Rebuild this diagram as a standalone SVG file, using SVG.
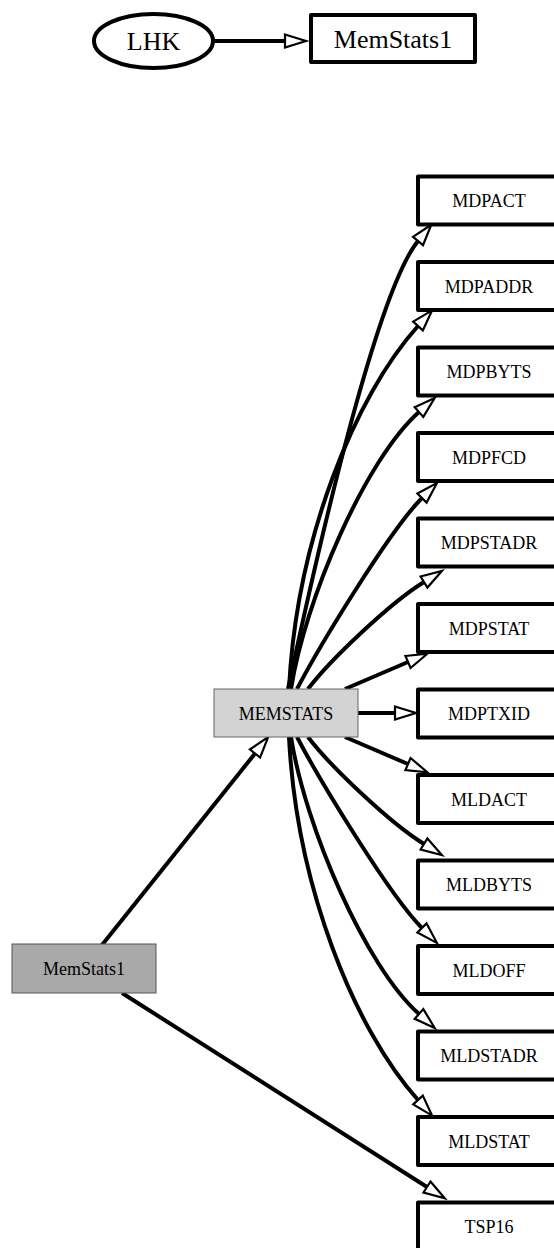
<svg xmlns="http://www.w3.org/2000/svg" width="554" height="1248" viewBox="0 0 554 1248">
  <style>
    .lbl { font-family: "Liberation Serif", "Times New Roman", serif; font-size: 18px; fill: #000; text-anchor: middle; }
    .big { font-size: 26px; }
    .box { fill: #fff; stroke: #000; stroke-width: 4; stroke-linejoin: round; }
    .edge { fill: none; stroke: #000; stroke-width: 4; }
  </style>
  <defs>
    <marker id="head" markerUnits="userSpaceOnUse" orient="auto" refX="0" refY="0" markerWidth="30" markerHeight="20" viewBox="-2 -10 30 20" overflow="visible">
      <path d="M0,-6.5 L21,0 L0,6.5 Z" fill="#fff" stroke="#000" stroke-width="2.2" stroke-linejoin="miter"/>
    </marker>
  </defs>

  <!-- connectors -->
  <g id="edges" class="edges">
    <path class="edge" d="M213,41 L285,41" marker-end="url(#head)"/>
    <path class="edge" d="M102,945 L255,753.5" marker-end="url(#head)"/>
    <path class="edge" d="M122,993 L427,1187" marker-end="url(#head)"/>
    <path class="edge" d="M358,713 L395,713" marker-end="url(#head)"/>
    <!-- upward fan -->
    <path class="edge" d="M345,689 L408,662" marker-end="url(#head)"/>
    <path class="edge" d="M308,689 C330,660 390,603 424,582" marker-end="url(#head)"/>
    <path class="edge" d="M297,689 C320,645 390,530 422,498" marker-end="url(#head)"/>
    <path class="edge" d="M291,689 C305,600 365,460 419,412" marker-end="url(#head)"/>
    <path class="edge" d="M289,689 C296.5,539 355,396 418,326" marker-end="url(#head)"/>
    <path class="edge" d="M288,689 C322,530 378,290 418,241" marker-end="url(#head)"/>
    <!-- downward fan -->
    <path class="edge" d="M345,737 L408,764" marker-end="url(#head)"/>
    <path class="edge" d="M308,737 C330,766 390,823 424,844" marker-end="url(#head)"/>
    <path class="edge" d="M297,737 C320,781 390,896 422,928" marker-end="url(#head)"/>
    <path class="edge" d="M291,737 C305,826 365,966 419,1014" marker-end="url(#head)"/>
    <path class="edge" d="M289,737 C296.5,887 355,1030 418,1100" marker-end="url(#head)"/>
  </g>

  <!-- top row -->
  <g id="LHK">
    <ellipse cx="153.5" cy="41" rx="59.5" ry="27" fill="#fff" stroke="#000" stroke-width="4"/>
    <text class="lbl big" x="153.5" y="50">LHK</text>
  </g>
  <g id="MemStats1_top">
    <rect class="box" x="311" y="15" width="164" height="47"/>
    <text class="lbl big" x="393" y="48">MemStats1</text>
  </g>

  <!-- left side -->
  <g id="MemStats1">
    <rect x="12" y="944" width="144" height="49" fill="#a9a9a9" stroke="#555" stroke-width="1"/>
    <text class="lbl" x="84" y="975">MemStats1</text>
  </g>
  <g id="MEMSTATS">
    <rect x="214" y="689" width="144" height="48" fill="#d3d3d3" stroke="#666" stroke-width="1"/>
    <text class="lbl" x="286" y="719.5">MEMSTATS</text>
  </g>

  <!-- right column -->
  <g id="MDPACT"><rect class="box" x="418" y="176.5" width="146" height="48"/><text class="lbl" x="489" y="207">MDPACT</text></g>
  <g id="MDPADDR"><rect class="box" x="418" y="262" width="146" height="48"/><text class="lbl" x="489" y="292.5">MDPADDR</text></g>
  <g id="MDPBYTS"><rect class="box" x="418" y="347.5" width="146" height="48"/><text class="lbl" x="489" y="378">MDPBYTS</text></g>
  <g id="MDPFCD"><rect class="box" x="418" y="433" width="146" height="48"/><text class="lbl" x="489" y="463.5">MDPFCD</text></g>
  <g id="MDPSTADR"><rect class="box" x="418" y="518.5" width="146" height="48"/><text class="lbl" x="489" y="549">MDPSTADR</text></g>
  <g id="MDPSTAT"><rect class="box" x="418" y="604" width="146" height="48"/><text class="lbl" x="489" y="634.5">MDPSTAT</text></g>
  <g id="MDPTXID"><rect class="box" x="418" y="689.5" width="146" height="48"/><text class="lbl" x="489" y="720">MDPTXID</text></g>
  <g id="MLDACT"><rect class="box" x="418" y="775" width="146" height="48"/><text class="lbl" x="489" y="805.5">MLDACT</text></g>
  <g id="MLDBYTS"><rect class="box" x="418" y="860.5" width="146" height="48"/><text class="lbl" x="489" y="891">MLDBYTS</text></g>
  <g id="MLDOFF"><rect class="box" x="418" y="946" width="146" height="48"/><text class="lbl" x="489" y="976.5">MLDOFF</text></g>
  <g id="MLDSTADR"><rect class="box" x="418" y="1031.5" width="146" height="48"/><text class="lbl" x="489" y="1062">MLDSTADR</text></g>
  <g id="MLDSTAT"><rect class="box" x="418" y="1117" width="146" height="48"/><text class="lbl" x="489" y="1147.5">MLDSTAT</text></g>
  <g id="TSP16"><rect class="box" x="418" y="1202.5" width="146" height="48"/><text class="lbl" x="489" y="1233">TSP16</text></g>
</svg>
